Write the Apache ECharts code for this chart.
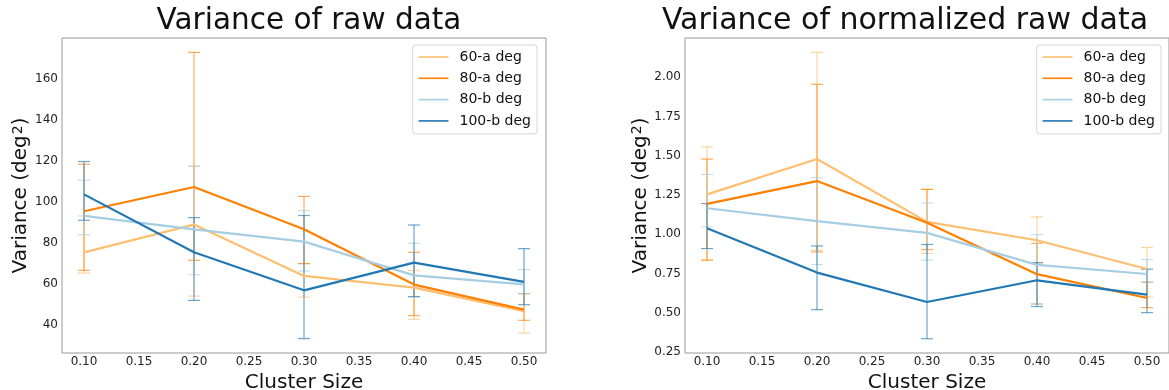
<!DOCTYPE html>
<html>
<head>
<meta charset="utf-8">
<script src="https://cdn.jsdelivr.net/npm/echarts@6/dist/echarts.min.js"></script>
<style>
html,body{margin:0;padding:0;background:#fff;}
#chart{width:1169px;height:390px;}
</style>
</head>
<body>
<div id="chart"></div>
<script>
// ---------- data ----------
const clusterSizes = [0.10, 0.20, 0.30, 0.40, 0.50];
const xTickLabels = [0.10, 0.15, 0.20, 0.25, 0.30, 0.35, 0.40, 0.45, 0.50];
const seriesNames = ['60-a deg', '80-a deg', '80-b deg', '100-b deg'];
const seriesColors = ['#fdbf6f', '#ff7f00', '#a6cee3', '#1f78b4'];

// Raw data variance (deg^2): mean, lower and upper error bar ends
const raw60a = [75.4, 88.9, 63.9, 58.2, 46.8];
const raw60aLow = [65.3, 54.1, 53.6, 42.8, 36.1];
const raw60aHigh = [93.1, 117.3, 69.9, 66.5, 55.3];
const raw80a = [95.4, 107.2, 86.6, 59.7, 47.5];
const raw80aLow = [66.6, 71.5, 69.9, 44.6, 42.3];
const raw80aHigh = [118.3, 172.7, 102.6, 75.4, 55.3];
const raw80b = [93.1, 86.6, 80.6, 64.2, 59.8];
const raw80bLow = [84.0, 64.5, 66.3, 53.8, 55.3];
const raw80bHigh = [110.5, 117.3, 95.6, 79.8, 67.0];
const raw100b = [103.6, 75.4, 56.9, 70.4, 61.0];
const raw100bLow = [91.0, 52.0, 33.4, 53.8, 49.9];
const raw100bHigh = [119.6, 92.3, 93.3, 88.7, 77.2];
const rawYTicks = [40, 60, 80, 100, 120, 140, 160];

// Normalized raw data variance
const norm60a = [1.254, 1.479, 1.079, 0.962, 0.779];
const norm60aLow = [0.835, 0.899, 0.878, 0.813, 0.601];
const norm60aHigh = [1.557, 2.159, 1.286, 1.111, 0.916];
const norm80a = [1.194, 1.339, 1.073, 0.746, 0.594];
const norm80aLow = [0.835, 0.888, 0.903, 0.556, 0.533];
const norm80aHigh = [1.479, 1.955, 1.286, 0.943, 0.695];
const norm80b = [1.166, 1.084, 1.009, 0.805, 0.747];
const norm80bLow = [1.047, 0.807, 0.835, 0.556, 0.695];
const norm80bHigh = [1.381, 1.360, 1.200, 0.999, 0.839];
const norm100b = [1.039, 0.756, 0.569, 0.707, 0.616];
const norm100bLow = [0.909, 0.520, 0.335, 0.540, 0.501];
const norm100bHigh = [1.196, 0.926, 0.935, 0.820, 0.778];
const normYTicks = [0.25, 0.50, 0.75, 1.00, 1.25, 1.50, 1.75, 2.00];

// ---------- chart ----------
const FONT = 'DejaVu Sans';
const chart = echarts.init(document.getElementById('chart'), null, {renderer: 'canvas'});

const rawSets = [[raw60a, raw60aLow, raw60aHigh], [raw80a, raw80aLow, raw80aHigh],
                 [raw80b, raw80bLow, raw80bHigh], [raw100b, raw100bLow, raw100bHigh]];
const normSets = [[norm60a, norm60aLow, norm60aHigh], [norm80a, norm80aLow, norm80aHigh],
                  [norm80b, norm80bLow, norm80bHigh], [norm100b, norm100bLow, norm100bHigh]];

function hexA(hex, a) {
  const r = parseInt(hex.slice(1, 3), 16), g = parseInt(hex.slice(3, 5), 16), b = parseInt(hex.slice(5, 7), 16);
  return 'rgba(' + r + ',' + g + ',' + b + ',' + a + ')';
}

function errRender(color) {
  return function (params, api) {
    const x = api.value(0), lo = api.value(1), hi = api.value(2);
    const a = api.coord([x, lo]), b = api.coord([x, hi]);
    const cw = 6;
    const st = {stroke: hexA(color, 0.65), lineWidth: 1.2};
    return {type: 'group', children: [
      {type: 'line', shape: {x1: a[0], y1: a[1], x2: b[0], y2: b[1]}, style: st},
      {type: 'line', shape: {x1: a[0] - cw, y1: a[1], x2: a[0] + cw, y2: a[1]}, style: st},
      {type: 'line', shape: {x1: b[0] - cw, y1: b[1], x2: b[0] + cw, y2: b[1]}, style: st}
    ]};
  };
}

const series = [];
[rawSets, normSets].forEach(function (sets, gi) {
  sets.forEach(function (s, i) {
    series.push({
      name: 'err-' + gi + '-' + i,
      type: 'custom',
      xAxisIndex: gi, yAxisIndex: gi,
      renderItem: errRender(seriesColors[i]),
      encode: {x: 0, y: [1, 2]},
      data: clusterSizes.map(function (x, k) { return [x, s[1][k], s[2][k]]; }),
      z: 1, silent: true
    });
  });
  sets.forEach(function (s, i) {
    series.push({
      name: seriesNames[i],
      type: 'line',
      xAxisIndex: gi, yAxisIndex: gi,
      data: clusterSizes.map(function (x, k) { return [x, s[0][k]]; }),
      symbol: 'none',
      lineStyle: {color: seriesColors[i], width: 2.2},
      itemStyle: {color: seriesColors[i]},
      z: 3, animation: false
    });
  });
});

function xAxisCfg(idx) {
  return {
    type: 'value', gridIndex: idx, min: 0.08, max: 0.52,
    axisLine: {show: false}, axisTick: {show: false}, splitLine: {show: false},
    axisLabel: {customValues: xTickLabels, formatter: function (v) { return v.toFixed(2); },
      fontFamily: FONT, fontSize: 12, color: '#222', margin: 3},
    name: 'Cluster Size', nameLocation: 'middle', nameGap: 11,
    nameTextStyle: {fontFamily: FONT, fontSize: 20, color: '#111', verticalAlign: 'top'}
  };
}
function yAxisCfg(idx, min, max, ticks, fmt) {
  return {
    type: 'value', gridIndex: idx, min: min, max: max,
    axisLine: {show: false}, axisTick: {show: false}, splitLine: {show: false},
    axisLabel: {customValues: ticks, formatter: fmt,
      fontFamily: FONT, fontSize: 12, color: '#222', margin: 4},
    name: 'Variance (deg{sup|2})', nameLocation: 'middle', nameGap: 27, nameRotate: 90,
    nameTextStyle: {fontFamily: FONT, fontSize: 20, color: '#111',
      rich: {sup: {fontFamily: FONT, fontSize: 14, color: '#111', verticalAlign: 'top', padding: [0, 0, 6, 1]}}}
  };
}
function legendCfg(left) {
  return {
    data: seriesNames, orient: 'vertical', left: left, top: 45,
    itemWidth: 30, itemHeight: 14, itemGap: 7.3,
    padding: [5, 6, 6, 5],
    backgroundColor: '#fff', borderColor: '#d6d6d6', borderWidth: 1, borderRadius: 3,
    itemStyle: {opacity: 0},
    lineStyle: {width: 1.6},
    textStyle: {fontFamily: FONT, fontSize: 14, color: '#111', padding: [0, 0, 0, 6]},
    selectedMode: false
  };
}

chart.setOption({
  animation: false,
  backgroundColor: '#fff',
  title: [
    {text: 'Variance of raw data', left: 304, top: 1, textAlign: 'center',
      textStyle: {fontFamily: FONT, fontSize: 29.5, fontWeight: 'normal', color: '#111'}},
    {text: 'Variance of normalized raw data', left: 900, top: 1, textAlign: 'center',
      textStyle: {fontFamily: FONT, fontSize: 30, fontWeight: 'normal', color: '#111'}}
  ],
  grid: [
    {left: 62, top: 38, width: 484, height: 315, outerBoundsMode: 'none', containLabel: false,
      show: true, borderColor: '#999', borderWidth: 1, backgroundColor: 'transparent'},
    {left: 685, top: 38, width: 484, height: 315, outerBoundsMode: 'none', containLabel: false,
      show: true, borderColor: '#999', borderWidth: 1, backgroundColor: 'transparent'}
  ],
  xAxis: [xAxisCfg(0), xAxisCfg(1)],
  yAxis: [
    yAxisCfg(0, 26.4, 179.7, rawYTicks, function (v) { return String(Math.round(v)); }),
    yAxisCfg(1, 0.244, 2.25, normYTicks, function (v) { return v.toFixed(2); })
  ],
  legend: [legendCfg(412.7), legendCfg(1036.7)],
  series: series
});
</script>
</body>
</html>
